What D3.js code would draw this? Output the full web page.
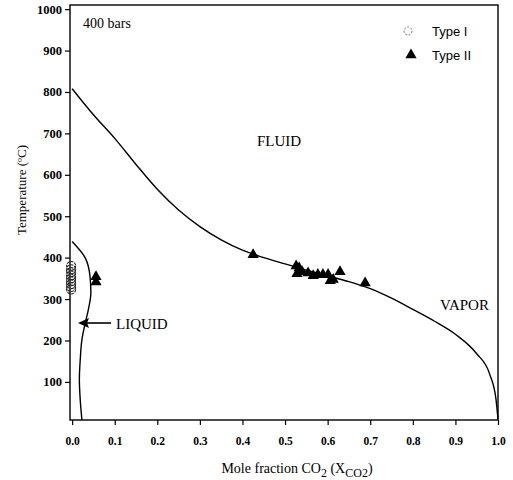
<!DOCTYPE html>
<html>
<head>
<meta charset="utf-8">
<script src="https://cdn.jsdelivr.net/npm/d3@7"></script>
<style>
  body { margin: 0; background: #fff; }
</style>
</head>
<body>
<div id="chart"></div>
<script>

// fluid / vapor boundary (x = mole fraction CO2, t = temperature)
var vaporX = [0, 0.05, 0.1, 0.15, 0.2, 0.25, 0.3, 0.35, 0.4, 0.45, 0.5, 0.55, 0.6, 0.65, 0.7, 0.75, 0.8, 0.85, 0.9, 0.95, 0.98, 0.995, 1.0];
var vaporT = [808, 745, 688, 625, 565, 515, 475, 443, 418, 400, 385, 370, 356, 342, 325, 302, 275, 247, 215, 168, 120, 60, 10];

// liquid boundary
var liquidX = [0, 0.031, 0.042, 0.044, 0.038, 0.031, 0.023, 0.019, 0.017, 0.019, 0.023];
var liquidT = [439, 399, 355, 315, 274, 243, 202, 153, 105, 57, 8];

// Type I inclusions (open circles)
var type1X = [0, 0, 0, 0, 0, 0, 0, 0, 0];
var type1T = [380, 372, 365, 357, 350, 343, 336, 329, 323];

// Type II inclusions (filled triangles)
var type2X = [0.056, 0.056, 0.425, 0.526, 0.533, 0.54, 0.528, 0.554, 0.566, 0.577, 0.589, 0.601, 0.613, 0.606, 0.629, 0.688];
var type2T = [354, 341, 407, 380, 375, 366, 361, 363, 356, 359, 359, 359, 347, 344, 366, 339];

var xTicks = [0, 0.1, 0.2, 0.3, 0.4, 0.5, 0.6, 0.7, 0.8, 0.9, 1.0];
var yTicks = [100, 200, 300, 400, 500, 600, 700, 800, 900, 1000];

var serif = "'Liberation Serif', 'Times New Roman', serif";

var svg = d3.select("#chart").append("svg")
    .attr("width", 513)
    .attr("height", 480);

var x = d3.scaleLinear().domain([-0.005, 1.0]).range([70, 498]);
var y = d3.scaleLinear().domain([8, 1010]).range([420, 5]);

// frame
svg.append("rect")
    .attr("x", x(-0.005)).attr("y", y(1010))
    .attr("width", x(1.0) - x(-0.005))
    .attr("height", y(8) - y(1010))
    .style("fill", "none").style("stroke", "#000").style("stroke-width", 1.4);

// axes
var xAxis = svg.append("g")
    .attr("transform", "translate(0," + y(8) + ")")
    .call(d3.axisBottom(x).tickValues(xTicks).tickFormat(d3.format(".1f")).tickSize(5).tickPadding(12));
xAxis.select(".domain").remove();
xAxis.selectAll(".tick text")
    .style("font-family", serif).style("font-weight", "bold").style("font-size", "11.5px");

var yAxis = svg.append("g")
    .attr("transform", "translate(" + x(-0.005) + ",0)")
    .call(d3.axisLeft(y).tickValues(yTicks).tickFormat(d3.format("d")).tickSize(5).tickPadding(3));
yAxis.select(".domain").remove();
yAxis.selectAll(".tick text")
    .style("font-family", serif).style("font-weight", "bold").style("font-size", "12.5px");

svg.selectAll(".tick line").attr("stroke-width", 1.2);

// axis titles
var xt = svg.append("text")
    .attr("x", 297).attr("y", 473)
    .attr("text-anchor", "middle")
    .style("font-family", serif).style("font-size", "14px");
xt.append("tspan").text("Mole fraction CO");
xt.append("tspan").attr("dy", 4).style("font-size", "12px").text("2");
xt.append("tspan").attr("dy", -4).text(" (X");
xt.append("tspan").attr("dy", 4).style("font-size", "12px").text("CO2");
xt.append("tspan").attr("dy", -4).text(")");

svg.append("text")
    .attr("transform", "translate(26,190) rotate(-90)")
    .attr("text-anchor", "middle")
    .style("font-family", serif).style("font-size", "13px")
    .text("Temperature (ºC)");

// boundary curves
var vaporLine = d3.line()
    .x(function(d) { return x(d[0]); })
    .y(function(d) { return y(d[1]); })
    .curve(d3.curveMonotoneX);

var liquidLine = d3.line()
    .x(function(d) { return x(d[0]); })
    .y(function(d) { return y(d[1]); })
    .curve(d3.curveMonotoneY);

svg.append("path")
    .datum(d3.zip(vaporX, vaporT))
    .attr("d", vaporLine)
    .style("fill", "none").style("stroke", "#000").style("stroke-width", 1.4);

svg.append("path")
    .datum(d3.zip(liquidX, liquidT))
    .attr("d", liquidLine)
    .style("fill", "none").style("stroke", "#000").style("stroke-width", 1.4);

// data points
svg.append("g").selectAll("circle")
    .data(d3.zip(type1X, type1T))
    .enter().append("circle")
    .attr("cx", function(d) { return x(d[0]) - 1; })
    .attr("cy", function(d) { return y(d[1]); })
    .attr("r", 4.5)
    .style("fill", "none").style("stroke", "#222").style("stroke-width", 1.1)
    .style("stroke-dasharray", "3,1");

var tri = d3.symbol().type(d3.symbolTriangle).size(55);
svg.append("g").selectAll("path")
    .data(d3.zip(type2X, type2T))
    .enter().append("path")
    .attr("d", tri)
    .attr("transform", function(d) { return "translate(" + x(d[0]) + "," + y(d[1]) + ")"; })
    .style("fill", "#000");

// labels
svg.append("text").attr("x", 83).attr("y", 28)
    .style("font-family", serif).style("font-size", "14px").text("400 bars");
svg.append("text").attr("x", 257).attr("y", 146)
    .style("font-family", serif).style("font-size", "15px").text("FLUID");
svg.append("text").attr("x", 440).attr("y", 310)
    .style("font-family", serif).style("font-size", "15px").text("VAPOR");
svg.append("text").attr("x", 116).attr("y", 329)
    .style("font-family", serif).style("font-size", "15px").text("LIQUID");

// arrow to liquid curve
svg.append("line")
    .attr("x1", 111).attr("y1", 323).attr("x2", 86).attr("y2", 323)
    .style("stroke", "#000").style("stroke-width", 1.6);
svg.append("path")
    .attr("d", "M78,323 L89,318 L87,323 L89,328 Z")
    .style("fill", "#000");

// legend
svg.append("circle").attr("cx", 408).attr("cy", 31).attr("r", 4)
    .style("fill", "none").style("stroke", "#777").style("stroke-width", 1)
    .style("stroke-dasharray", "2,1.5");
svg.append("path").attr("d", tri)
    .attr("transform", "translate(411,55)").style("fill", "#000");
svg.append("text").attr("x", 432).attr("y", 36)
    .style("font-family", "'Liberation Sans', Arial, sans-serif").style("font-size", "13px").text("Type I");
svg.append("text").attr("x", 432).attr("y", 60)
    .style("font-family", "'Liberation Sans', Arial, sans-serif").style("font-size", "13px").text("Type II");

</script>
</body>
</html>
